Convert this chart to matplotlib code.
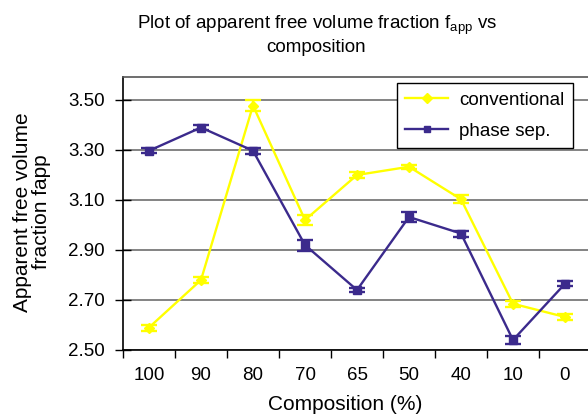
import matplotlib
matplotlib.use("Agg")
import matplotlib.pyplot as plt
from matplotlib.lines import Line2D
import numpy as np

categories = ["100", "90", "80", "70", "65", "50", "40", "10", "0"]
conventional = [2.59, 2.78, 3.478, 3.02, 3.20, 3.233, 3.103, 2.685, 2.632]
conventional_err = [0.012, 0.012, 0.022, 0.02, 0.012, 0.008, 0.015, 0.012, 0.012]
phase_sep = [3.297, 3.39, 3.297, 2.92, 2.74, 3.032, 2.966, 2.54, 2.765]
phase_sep_err = [0.01, 0.01, 0.012, 0.022, 0.01, 0.022, 0.012, 0.018, 0.01]
yticks = [2.50, 2.70, 2.90, 3.10, 3.30, 3.50]

plt.rcParams['font.family'] = ['Liberation Sans', 'DejaVu Sans']

W, H = 588, 416
fig = plt.figure(figsize=(W / 100, H / 100), dpi=100)
ax = fig.add_axes([123 / W, (H - 350) / H, 468 / W, 273 / H])

x = np.arange(len(categories))
yellow = '#FFFF00'
purple = '#3B2A8C'

ax.errorbar(x, conventional, yerr=conventional_err, color=yellow, lw=1.7,
            marker='D', ms=5.5, capsize=5.5, capthick=1.7, elinewidth=1.7, zorder=3)
ax.errorbar(x, phase_sep, yerr=phase_sep_err, color=purple, lw=1.7,
            marker='s', ms=5.5, capsize=5.5, capthick=1.7, elinewidth=1.7, zorder=4)

ax.set_xlim(-0.5, len(categories) - 0.5)
ax.set_ylim(2.5, 3.592)
ax.set_yticks(yticks)
ax.set_yticklabels([f"{v:.2f}" for v in yticks])
ax.set_xticks(x)
ax.set_xticklabels(categories)
ax.set_xticks(np.arange(-0.5, len(categories), 1.0), minor=True)
ax.tick_params(axis='x', which='major', length=0, pad=12, labelsize=13.5)
ax.tick_params(axis='x', which='minor', length=6, width=1, direction='out', color='black')
ax.tick_params(axis='y', which='major', length=12, width=1, direction='inout',
               labelsize=13.5, pad=7)

ax.grid(axis='y', color='#6e6e6e', lw=1.2, zorder=0)
ax.set_axisbelow(True)
for s in ['left', 'bottom']:
    ax.spines[s].set_color('black')
    ax.spines[s].set_linewidth(1.2)
ax.spines['top'].set_color('#555555')
ax.spines['top'].set_linewidth(1.2)
ax.spines['right'].set_visible(False)

handles = [Line2D([], [], color=yellow, lw=1.7, marker='D', ms=5),
           Line2D([], [], color=purple, lw=1.7, marker='s', ms=5)]
leg = ax.legend(handles, ['conventional', 'phase sep.'], loc='upper right',
                bbox_to_anchor=(573 / W, (H - 83) / H),
                bbox_transform=fig.transFigure, fontsize=13.5, frameon=True,
                fancybox=False, edgecolor='black', framealpha=1,
                handlelength=2.3, handletextpad=0.6, borderpad=0.45,
                labelspacing=0.75, borderaxespad=0)
leg.get_frame().set_linewidth(1.0)

fig.text(317 / W, (H - 25) / H, r"Plot of apparent free volume fraction f$_{\mathregular{app}}$ vs",
         ha='center', va='center', fontsize=13.5)
fig.text(316 / W, (H - 48) / H, "composition", ha='center', va='center', fontsize=13.5)

fig.text(345 / W, (H - 405) / H, "Composition (%)", ha='center', va='center', fontsize=15)
fig.text(32 / W, (H - 212) / H, "Apparent free volume\nfraction fapp", ha='center', va='center',
         rotation=90, fontsize=15, linespacing=1.05)

fig.savefig("out.png", dpi=100)
